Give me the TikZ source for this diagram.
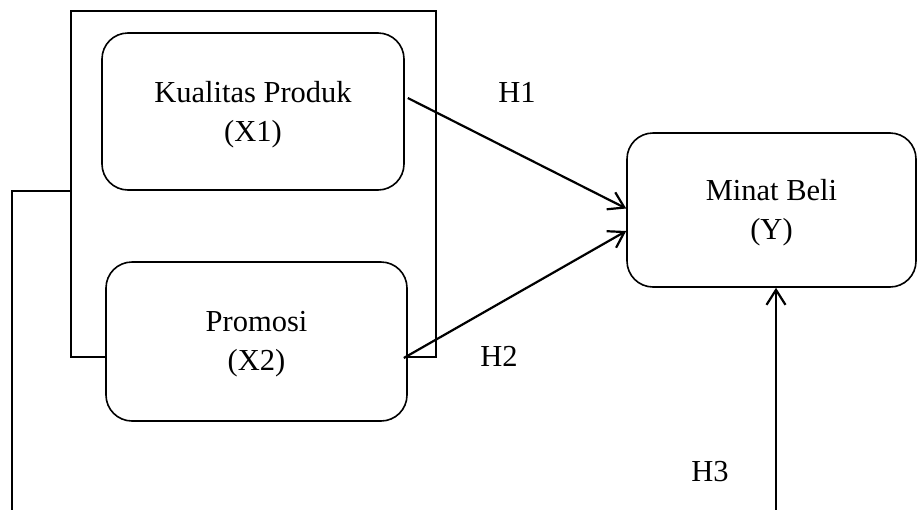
\documentclass[tikz,border=0pt]{standalone}
\usepackage{fontspec}
\setmainfont{Liberation Serif}
\usetikzlibrary{arrows.meta,calc}
\begin{document}
\begin{tikzpicture}[x=1pt,y=-1pt,
  txt/.style={font=\fontsize{30.5}{39}\selectfont},
  box/.style={draw, line width=1.6pt, rounded corners=26pt, fill=white, inner sep=0pt},
  boxtext/.style={txt, align=center, inner sep=0pt},
  framebox/.style={draw, line width=1.6pt, inner sep=0pt},
  link/.style={line width=2.2pt,
    -{Straight Barb[length=15pt,width=19pt,line width=2.2pt]}},
  wire/.style={line width=1.6pt},
  lab/.style={txt, inner sep=0pt}]
\useasboundingbox (0,0) rectangle (917,509);

% grouping frame around the two independent variables
\node[framebox, minimum width=365pt, minimum height=346pt] (grp) at (253.5,184) {};

% variables
\node[box, minimum width=302pt, minimum height=157pt] (kp) at (253,111.5) {};
\node[box, minimum width=301pt, minimum height=159pt] (pr) at (256.5,341.5) {};
\node[box, minimum width=289pt, minimum height=154pt] (mb) at (771.5,210) {};
\node[boxtext] (kpt) at ($(kp)+(0,3)$) {Kualitas Produk\\(X1)};
\node[boxtext] (prt) at ($(pr)+(0,3)$) {Promosi\\(X2)};
\node[boxtext] (mbt) at ($(mb)+(0,3)$) {Minat Beli\\(Y)};

% joint path (H3)
\coordinate (lb) at (12,515);
\coordinate (h3b) at (776,515);
\draw[wire] ($(grp.west)+(0,7)$) -- (lb |- {$(grp.west)+(0,7)$}) -- (lb);
\draw[link] (h3b) -- (h3b |- mb.south);

% partial paths
\draw[link] ($(kp.east)+(3,-13.5)$) -- ($(mb.west)+(0,-1.5)$);
\draw[link] ($(pr.east)+(-4,16.5)$) -- ($(mb.west)+(0,21)$);

% hypothesis labels
\node[lab] (h1) at (517,92) {H1};
\node[lab] (h2) at (499,356) {H2};
\node[lab] (h3) at (710,472) {H3};
\end{tikzpicture}
\end{document}
